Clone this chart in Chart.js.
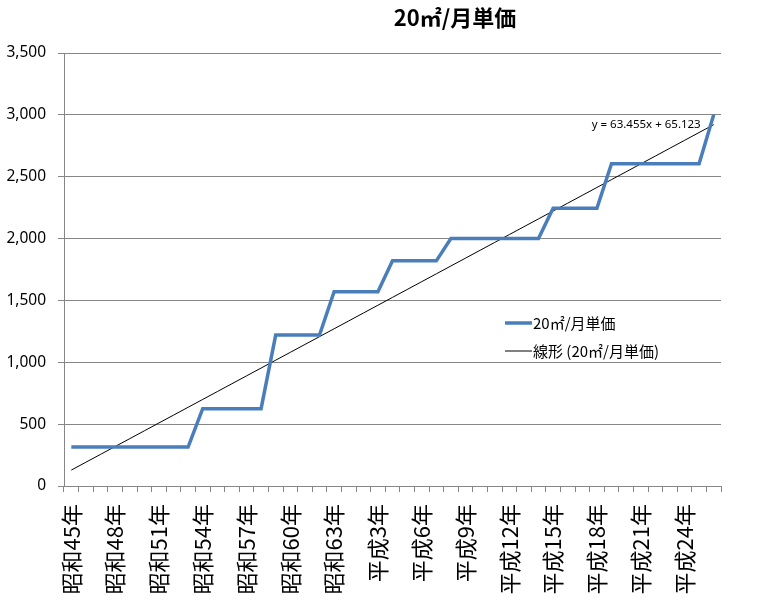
<!DOCTYPE html>
<html lang="ja">
<head>
<meta charset="utf-8">
<title>20㎡/月単価</title>
<script src="https://cdn.jsdelivr.net/npm/chart.js@4.4.1/dist/chart.umd.min.js"></script>
<style>
  html, body { margin: 0; padding: 0; background: #fff; }
  #wrap { position: relative; width: 759px; height: 604px; overflow: hidden; }
</style>
</head>
<body>
<div id="wrap"><canvas id="priceChart" width="759" height="604"></canvas></div>
<script>
// categories (one per year)
const years = [
    '昭和45年', '昭和46年', '昭和47年', '昭和48年', '昭和49年', '昭和50年', '昭和51年',
    '昭和52年', '昭和53年', '昭和54年', '昭和55年', '昭和56年', '昭和57年', '昭和58年',
    '昭和59年', '昭和60年', '昭和61年', '昭和62年', '昭和63年',
    '平成元年', '平成2年', '平成3年', '平成4年', '平成5年', '平成6年', '平成7年',
    '平成8年', '平成9年', '平成10年', '平成11年', '平成12年', '平成13年', '平成14年',
    '平成15年', '平成16年', '平成17年', '平成18年', '平成19年', '平成20年', '平成21年',
    '平成22年', '平成23年', '平成24年', '平成25年', '平成26年'
];

// 20m2 monthly price
const unitPrice = [
    315, 315, 315, 315, 315, 315, 315, 315, 315,
    625, 625, 625, 625, 625,
    1220, 1220, 1220, 1220,
    1570, 1570, 1570, 1570,
    1820, 1820, 1820, 1820,
    2000, 2000, 2000, 2000, 2000, 2000, 2000,
    2245, 2245, 2245, 2245,
    2605, 2605, 2605, 2605, 2605, 2605, 2605,
    3000
];

// linear trendline as shown on the chart
const trendSlope = 63.455;
const trendIntercept = 65.123;
const trendLabel = 'y = 63.455x + 65.123';

const yTicks = { min: 0, max: 3500, step: 500 };

const seriesName = '20㎡/月単価';
const trendName = '線形 (20㎡/月単価)';
const chartTitle = '20㎡/月単価';

const trendValues = years.map((_, i) => trendSlope * (i + 1) + trendIntercept);

const axisGray = '#868686';
const cjkFont = '"Noto Sans CJK JP", "Noto Sans", sans-serif';

// title, legend and equation drawn over the plot like in Excel
const decorPlugin = {
    id: 'decor',
    afterDraw(chart) {
        const ctx = chart.ctx;
        ctx.save();

        // title
        ctx.fillStyle = '#000';
        ctx.font = 'bold 22px ' + cjkFont;
        ctx.textAlign = 'center';
        ctx.textBaseline = 'middle';
        ctx.fillText(chartTitle, 455, 18);

        // trendline equation, next to the last trend point
        const xs = chart.scales.x, ys = chart.scales.y;
        const last = trendValues.length - 1;
        const px = xs.getPixelForValue(last);
        const py = ys.getPixelForValue(trendValues[last]);
        ctx.font = '11.5px "Noto Sans", sans-serif';
        ctx.textAlign = 'right';
        ctx.fillText(trendLabel, px - 13, py);

        // legend
        const items = chart.data.datasets;
        ctx.font = '15px ' + cjkFont;
        ctx.textAlign = 'left';
        items.forEach((ds, i) => {
            const y = 323 + i * 28;
            ctx.strokeStyle = ds.borderColor;
            ctx.lineWidth = ds.borderWidth;
            ctx.beginPath();
            ctx.moveTo(505, y);
            ctx.lineTo(532, y);
            ctx.stroke();
            ctx.fillStyle = '#000';
            ctx.fillText(ds.label, 533, y);
        });

        ctx.restore();
    }
};

const ctx = document.getElementById('priceChart').getContext('2d');
const priceChart = new Chart(ctx, {
    type: 'line',
    data: {
        labels: years,
        datasets: [
            {
                label: seriesName,
                data: unitPrice,
                borderColor: '#4A7EBB',
                borderWidth: 3.5,
                pointRadius: 0,
                tension: 0,
                fill: false
            },
            {
                label: trendName,
                data: trendValues,
                borderColor: '#000000',
                borderWidth: 1,
                pointRadius: 0,
                tension: 0,
                fill: false
            }
        ]
    },
    options: {
        responsive: false,
        animation: false,
        layout: {
            padding: { top: 53, right: 38, bottom: 0, left: 0 }
        },
        plugins: {
            legend: { display: false },
            title: { display: false },
            tooltip: { enabled: false }
        },
        scales: {
            x: {
                offset: true,
                grid: {
                    offset: true,
                    drawOnChartArea: false,
                    drawTicks: true,
                    tickLength: 6,
                    color: axisGray
                },
                border: { display: true, color: axisGray },
                ticks: {
                    autoSkip: false,
                    minRotation: 90,
                    maxRotation: 90,
                    padding: 12,
                    color: '#000',
                    font: { family: cjkFont, size: 22 },
                    callback: function(val, index) {
                        return index % 3 === 0 ? this.getLabelForValue(val) : '';
                    }
                },
                afterFit: function(scale) { scale.height = 118; }
            },
            y: {
                min: yTicks.min,
                max: yTicks.max,
                grid: {
                    color: axisGray,
                    drawTicks: true,
                    tickLength: 6
                },
                border: { display: true, color: axisGray },
                ticks: {
                    stepSize: yTicks.step,
                    padding: 12,
                    color: '#000',
                    font: { family: '"Noto Sans", sans-serif', size: 15.5 }
                },
                afterFit: function(scale) { scale.width = 64; }
            }
        }
    },
    plugins: [decorPlugin]
});
</script>
</body>
</html>
